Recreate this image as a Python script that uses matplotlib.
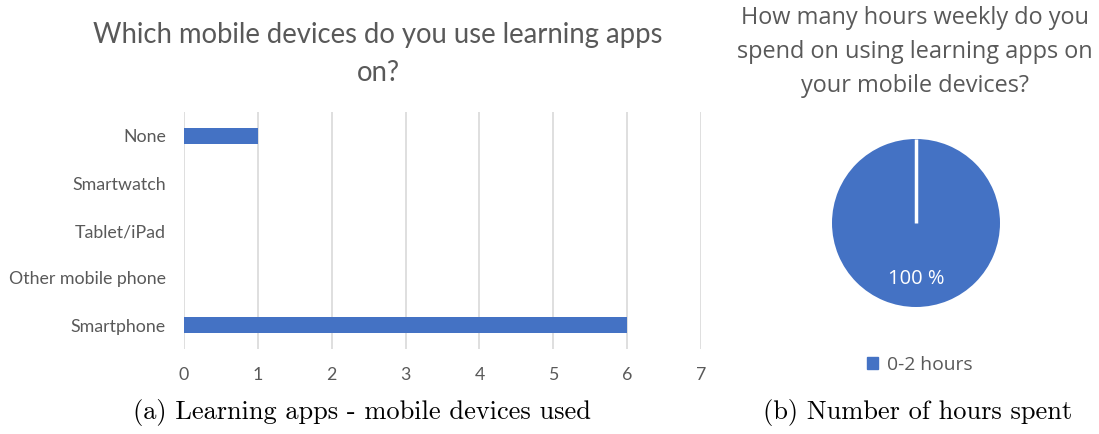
import matplotlib
matplotlib.use("Agg")
import numpy as np
import matplotlib.pyplot as plt
from matplotlib.patches import Patch

categories = ["Smartphone", "Other mobile phone", "Tablet/iPad", "Smartwatch", "None"]
counts = [6, 0, 0, 0, 1]
x_ticks = [0, 1, 2, 3, 4, 5, 6, 7]

pie_labels = ["0-2 hours"]
pie_values = [100]

BLUE = "#4472C4"
GRAY = "#595959"
W, H = 1099, 434

fig = plt.figure(figsize=(W / 100, H / 100), dpi=100)
fig.patch.set_facecolor("white")

# ---- bar chart ----
ax = fig.add_axes([184 / W, 1 - 349 / H, (701 - 184) / W, (349 - 112) / H])
ax.barh(range(len(categories)), counts, height=0.34, color=BLUE)
ax.set_xlim(0, 7)
ax.set_ylim(-0.5, len(categories) - 0.5)
ax.set_xticks(x_ticks)
ax.set_xticklabels([str(t) for t in x_ticks], fontfamily="Lato", fontsize=12.8, color=GRAY)
ax.set_yticks(range(len(categories)))
ax.set_yticklabels(categories, fontfamily="Lato", fontsize=12.8, color=GRAY)
ax.tick_params(axis="both", length=0)
ax.tick_params(axis="y", pad=13)
ax.tick_params(axis="x", pad=13)
for s in ax.spines.values():
    s.set_visible(False)
ax.grid(axis="x", color="#D9D9D9", linewidth=1.2)
ax.set_axisbelow(True)

fig.text(378 / W, 1 - 35 / H, "Which mobile devices do you use learning apps",
         ha="center", va="center", fontfamily="Lato", fontsize=19.8, color=GRAY)
fig.text(378 / W, 1 - 73 / H, "on?",
         ha="center", va="center", fontfamily="Lato", fontsize=19.8, color=GRAY)

# ---- pie chart ----
r = 84
cx, cy = 916, 223
pax = fig.add_axes([(cx - r) / W, 1 - (cy + r) / H, 2 * r / W, 2 * r / H])
wedges, _, _ = pax.pie(pie_values, colors=[BLUE], startangle=90, counterclock=False, radius=1,
                       wedgeprops=dict(edgecolor="white", linewidth=0),
                       autopct=lambda p: f"{p:.0f} %", pctdistance=0.67,
                       textprops=dict(color="white", fontfamily="Open Sans", fontsize=14.5))
# white separator along the wedge's start edge
for w in wedges:
    th = np.deg2rad(w.theta2)
    pax.plot([0, w.r * np.cos(th)], [0, w.r * np.sin(th)], color="white", linewidth=2.5,
             solid_capstyle="butt")
pax.set_xlim(-1, 1)
pax.set_ylim(-1, 1)
pax.set_aspect("equal")
pax.axis("off")

for i, line in enumerate(["How many hours weekly do you",
                          "spend on using learning apps on",
                          "your mobile devices?"]):
    fig.text(915 / W, 1 - (18 + i * 34) / H, line, ha="center", va="center",
             fontfamily="Open Sans", fontsize=16.9, color=GRAY)

fig.legend(handles=[Patch(color=BLUE)], labels=pie_labels, loc="center",
           bbox_to_anchor=(920 / W, 1 - 365 / H), frameon=False,
           handlelength=0.55, handleheight=0.55, handletextpad=0.5,
           prop=dict(family="Open Sans", size=13.9), labelcolor=GRAY)

# ---- captions ----
fig.text(362 / W, 1 - 412 / H, "(a) Learning apps - mobile devices used",
         ha="center", va="center", fontfamily="cmr10", fontsize=19, color="black")
fig.text(918 / W, 1 - 412 / H, "(b) Number of hours spent",
         ha="center", va="center", fontfamily="cmr10", fontsize=19, color="black")

fig.savefig("out.png", dpi=100, facecolor="white")
